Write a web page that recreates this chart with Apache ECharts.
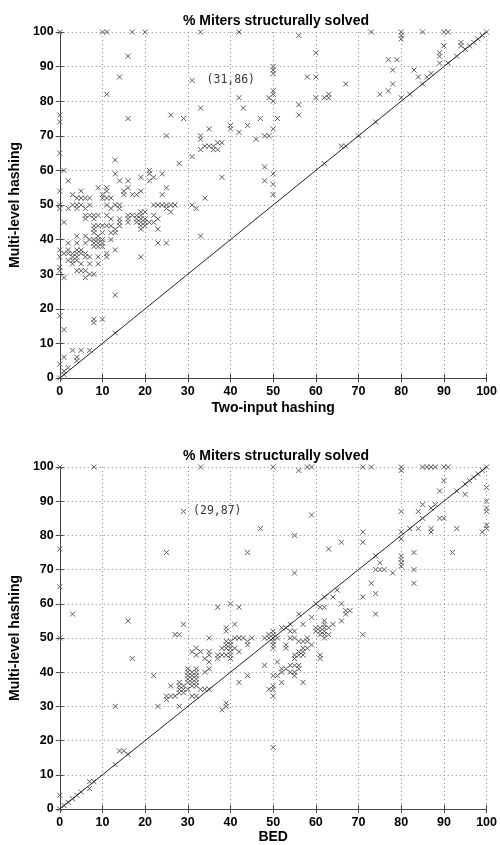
<!DOCTYPE html>
<html>
<head>
<meta charset="utf-8">
<script src="https://cdn.jsdelivr.net/npm/echarts@6/dist/echarts.min.js"></script>
<style>html,body{margin:0;padding:0;background:#fff}#c{width:500px;height:845px}</style>
</head>
<body>
<div id="c"></div>
<script>
// ---- data ----
const titleText = "% Miters structurally solved";
const yAxisName = "Multi-level hashing";
const xNameTop = "Two-input hashing";
const xNameBottom = "BED";
const tickInterval = 10;
const axisMin = 0, axisMax = 100;
const diagonal = [[0, 0], [100, 100]];

const annotTop = [31, 86];
const annotBottom = [29, 87];

// Two-input hashing (x) vs Multi-level hashing (y)
const twoInputPoints = [
[0,100],[10,100],[11,100],[17,100],[20,100],[33,100],[42,100],[73,100],[80,100],[85,100],[90,100],[91,100],[100,100],
[80,99],[80,98],[56,99],
[16,93],[11,82],[14,87],[16,75],[0,76],[0,74],[0,65],[0,54],[1,60],[2,57],[3,53],[5,54],[6,52],[9,55],[10,53],[11,54],[11,52],[10,52],[12,52],
[13,63],[13,59],[14,57],[16,57],[16,55],[15,54],[17,53],[18,53],[19,54],[19,58],[21,60],[21,59],[21,57],[22,58],[24,59],[24,53],[25,55],
[25,70],[26,76],[28,62],[29,75],[31,64],[31,86],[33,78],[33,70],[33,69],[33,66],[34,67],[35,67],[36,67],[35,72],[37,68],[38,68],[36,66],[37,66],
[38,58],[34,52],[40,73],[40,72],[42,81],[42,71],[43,78],[44,73],
[60,94],[50,90],[50,89],[50,88],[58,87],[60,87],[67,85],[77,92],[79,92],[78,89],[83,89],[84,87],[86,87],[87,88],[78,85],[77,83],[75,82],
[80,81],[82,82],[85,85],[89,94],[89,93],[89,91],[90,96],[91,91],[93,93],[94,97],[94,96],[95,95],[96,96],[97,97],[98,98],[99,99],
[56,79],[56,76],[60,81],[62,81],[63,82],[63,81],[50,83],[50,82],[49,81],[50,80],[47,75],[51,75],[50,72],[46,69],[48,70],[49,70],
[48,61],[48,57],[50,59],[50,56],[50,53],[66,67],[67,67],[62,62],[74,74],[70,70],
[0,50],[0,49],[0,37],[0,35],[0,32],[0,31],[0,18],[0,4],[0,0],[1,29],[1,45],[1,14],[1,6],[1,2],[2,3],[1,1],[2,49],[4,49],
[3,8],[5,8],[7,8],[4,6],[4,5],[8,17],[8,16],[10,17],[13,24],[13,13],
[2,39],[3,35],[3,33],[4,35],[4,41],[4,39],[5,36],[5,33],[6,31],[6,41],[6,39],[6,36],[6,35],[7,40],[7,35],[6,29],[7,30],[8,30],
[7,33],[9,33],[9,35],[11,36],[11,35],[12,40],[13,37],
[8,39],[9,39],[10,40],[10,39],[9,41],[8,40],[10,42],[8,42],[8,38],[9,38],[9,40],[10,38],[8,44],[8,43],[9,44],[10,44],[11,44],[8,46],
[6,46],[6,47],[6,49],[7,50],[7,47],[7,52],[9,47],[8,47],[5,50],[5,52],[4,50],[4,52],[3,50],
[11,55],[11,50],[12,49],[13,50],[14,49],[14,50],[11,47],[12,46],[12,44],[13,43],[13,42],[12,42],[14,44],[14,46],[14,45],[15,53],
[16,47],[16,46],[16,45],[17,47],[18,47],[19,47],[18,46],[19,46],[19,45],[20,46],[20,45],[20,44],[21,45],[22,45],[18,45],[19,44],[19,43],[19,48],[20,48],
[22,47],[23,46],[23,43],[22,50],[23,50],[24,50],[25,50],[26,50],[27,50],[25,49],[26,48],[19,35],[23,39],[25,39],[31,50],[32,49],[33,41],
[1,36],[2,36],[3,36],[4,36],[2,34],[3,34],[4,34],[2,37],[4,37],[5,37],[4,31],[5,31]
];

// BED (x) vs Multi-level hashing (y)
const bedPoints = [
[0,100],[8,100],[33,100],[50,100],[56,99],[58,100],[59,100],[71,100],[73,100],[80,100],[80,99],[85,100],[86,100],[87,100],[88,100],[90,100],[91,100],[100,100],
[0,76],[0,65],[0,50],[0,4],[0,0],[1,1],[2,2],[3,3],[4,4],[5,5],[25,75],[29,87],[44,75],[37,59],[40,60],[42,59],
[59,86],[47,82],[55,80],[63,76],[66,78],[55,69],[71,81],[71,78],[74,74],[75,72],[74,70],[75,70],[76,70],[73,66],[74,63],[71,62],[78,69],
[80,87],[80,81],[80,79],[80,74],[80,73],[80,72],[80,71],[83,75],[83,70],[83,66],[84,87],[85,89],[85,85],[84,82],[82,82],[87,82],[87,81],
[87,88],[88,89],[89,85],[90,85],[89,93],[90,96],[92,75],[93,82],[93,93],[95,92],
[100,94],[100,90],[100,88],[100,87],[100,83],[100,82],[99,81],[95,95],[96,96],[97,97],[98,98],[99,99],
[66,60],[67,58],[68,58],[67,57],[74,57],[66,55],[64,54],[62,53],[63,51],[62,52],[62,50],[61,51],[60,52],[61,53],[60,60],[61,59],[62,59],
[59,56],[56,57],[57,54],[55,52],[54,54],[53,53],[54,50],[55,50],[53,48],[53,47],
[50,52],[50,51],[50,50],[50,49],[50,48],[50,47],[49,51],[48,50],[49,50],[51,50],[48,42],[51,43],[50,39],[51,39],[52,37],[49,35],[50,36],[50,35],[50,33],[50,18],
[52,41],[53,41],[54,42],[55,42],[56,41],[54,40],[55,40],[55,39],[57,37],[55,44],[56,42],[56,45],[57,46],[57,45],[56,46],[55,45],
[57,49],[58,49],[59,48],[58,47],[56,49],[58,50],[57,47],[61,45],[61,44],[71,51],[65,64],[64,62],[62,62],[62,55],[61,52],[62,51],
[52,53],[54,52],[60,53],[62,54],[63,53],[52,40],
[3,57],[16,55],[17,44],[22,39],[13,30],[23,30],[14,17],[15,17],[16,16],[13,13],[7,8],[8,8],[7,6],
[29,54],[27,51],[28,51],[39,53],[41,54],[35,50],[39,49],[39,48],[41,50],[42,50],[43,50],[44,49],[45,50],[44,48],[42,46],
[31,46],[32,47],[33,46],[32,45],[35,46],[35,45],[34,44],[35,43],[35,41],[34,40],[38,47],[39,47],[40,46],[40,47],[40,45],[40,44],
[38,45],[39,45],[37,45],[37,44],[39,52],[40,49],[40,48],[41,47],
[30,40],[31,40],[32,40],[30,39],[31,39],[32,39],[30,38],[31,38],[32,38],[31,37],[32,37],[30,37],[30,41],[32,41],
[33,35],[34,35],[35,35],[31,36],[32,36],[30,35],[28,37],[28,36],[29,36],[28,35],[29,35],[29,34],[28,34],[26,36],
[25,33],[26,33],[27,33],[25,32],[28,30],[31,33],[32,33],[39,31],[39,30],[38,29],[42,37],[44,39]
];

// ---- chart ----
const FONT = '"Liberation Sans", Arial, Helvetica, sans-serif';
const AX = '#444';
const chart = echarts.init(document.getElementById('c'), null, {renderer: 'canvas'});
const grids = [
  {left: 52, top: 32, width: 438, height: 346},
  {left: 52, top: 467, width: 437, height: 344}
];
function mainX(g, name, gap) {
  return {
    type: 'value', gridIndex: g, position: 'bottom', min: axisMin, max: axisMax, interval: tickInterval,
    name: name, nameLocation: 'middle', nameGap: gap,
    nameTextStyle: {fontFamily: FONT, fontWeight: 'bold', fontSize: 14, color: '#000'},
    axisLine: {show: true, lineStyle: {color: AX, width: 1}},
    axisTick: {show: true, inside: true, length: 4, lineStyle: {color: AX}},
    axisLabel: {show: true, margin: 7, fontFamily: FONT, fontWeight: 'bold', fontSize: 12.5, color: '#000'},
    splitLine: {show: true, lineStyle: {type: [1, 3], color: '#888', width: 1}}
  };
}
function mirrorX(g) {
  return {
    type: 'value', gridIndex: g, position: 'top', min: axisMin, max: axisMax, interval: tickInterval,
    axisLine: {show: true, lineStyle: {color: AX, width: 1}},
    axisTick: {show: true, inside: true, length: 4, lineStyle: {color: AX}},
    axisLabel: {show: false}, splitLine: {show: false}
  };
}
function mainY(g) {
  return {
    type: 'value', gridIndex: g, position: 'left', min: axisMin, max: axisMax, interval: tickInterval,
    name: yAxisName, nameLocation: 'middle', nameGap: 27,
    nameTextStyle: {fontFamily: FONT, fontWeight: 'bold', fontSize: 14, color: '#000'},
    axisLine: {show: true, lineStyle: {color: AX, width: 1}},
    axisTick: {show: true, inside: true, length: 4, lineStyle: {color: AX}},
    axisLabel: {show: true, margin: 6, fontFamily: FONT, fontWeight: 'bold', fontSize: 12.5, color: '#000'},
    splitLine: {show: true, lineStyle: {type: [1, 3], color: '#888', width: 1}}
  };
}
function mirrorY(g) {
  return {
    type: 'value', gridIndex: g, position: 'right', min: axisMin, max: axisMax, interval: tickInterval,
    axisLine: {show: true, lineStyle: {color: AX, width: 1}},
    axisTick: {show: true, inside: true, length: 4, lineStyle: {color: AX}},
    axisLabel: {show: false}, splitLine: {show: false}
  };
}
const xSym = 'path://M0,0L10,10M10,0L0,10';
function scatter(idx, data) {
  return {
    type: 'scatter', xAxisIndex: idx, yAxisIndex: idx, data: data,
    symbol: xSym, symbolSize: 5, silent: true,
    itemStyle: {color: 'rgba(0,0,0,0)', borderColor: '#5a5a5a', borderWidth: 1, opacity: 1},
    z: 3
  };
}
function diag(idx) {
  return {
    type: 'line', xAxisIndex: idx, yAxisIndex: idx, data: diagonal, symbol: 'none', silent: true,
    lineStyle: {color: '#222', width: 1}, z: 4
  };
}
function annot(idx, pt, dist) {
  return {
    type: 'scatter', xAxisIndex: idx, yAxisIndex: idx, data: [pt], symbol: 'circle', symbolSize: 1, silent: true,
    itemStyle: {color: 'rgba(0,0,0,0)'},
    label: {show: true, position: 'right', distance: dist,
      formatter: p => '(' + p.value[0] + ',' + p.value[1] + ')',
      fontFamily: '"DejaVu Sans Mono", "Liberation Mono", monospace', fontSize: 11.5, color: '#000'},
    z: 5
  };
}
chart.setOption({
  animation: false,
  backgroundColor: '#fff',
  title: [
    {text: titleText, left: 271, textAlign: 'center', top: 9,
      textStyle: {fontFamily: FONT, fontWeight: 'bold', fontSize: 14, color: '#000'}},
    {text: titleText, left: 271, textAlign: 'center', top: 444,
      textStyle: {fontFamily: FONT, fontWeight: 'bold', fontSize: 14, color: '#000'}}
  ],
  grid: grids,
  xAxis: [mainX(0, xNameTop, 23), mirrorX(0), mainX(1, xNameBottom, 21), mirrorX(1)],
  yAxis: [mainY(0), mirrorY(0), mainY(1), mirrorY(1)],
  series: [
    scatter(0, twoInputPoints), diag(0), annot(0, annotTop, 14),
    scatter(2, bedPoints), diag(2), annot(2, annotBottom, 9)
  ]
});
</script>
</body>
</html>
